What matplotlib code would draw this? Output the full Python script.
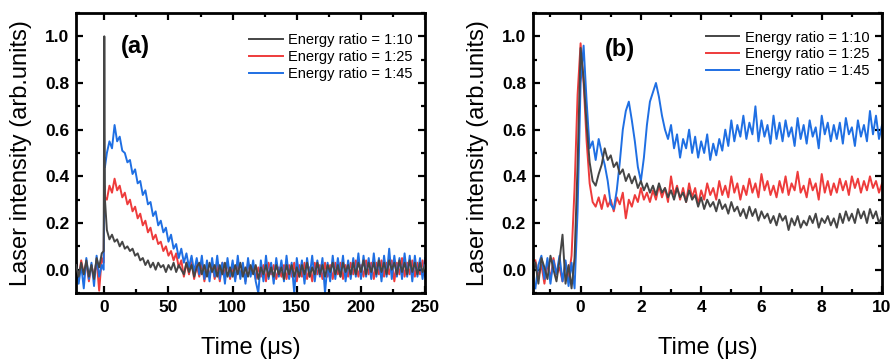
import numpy as np
import matplotlib
matplotlib.use('Agg')
import matplotlib.pyplot as plt
from matplotlib.ticker import MultipleLocator, FormatStrFormatter

plt.rcParams['font.family'] = ['Liberation Sans', 'DejaVu Sans']

############################################################
# DATA
labels = ['Energy ratio = 1:10', 'Energy ratio = 1:25', 'Energy ratio = 1:45']
colors = ['#454545', '#ee3b3b', '#1f6fe3']

# (a) long time window, sampling in us (finer around the spike at t=0)
t_a = np.concatenate([np.arange(-22, -1, 2), [-0.5, 0, 0.5], np.arange(2, 251, 2)])

gray_a = [0.02, -0.03, 0.03, -0.02, 0.04, -0.03, 0.02, -0.04, 0.05, 0.01, 0.07,
          0.08, 1.00, 0.30,
          0.17, 0.13, 0.15, 0.12, 0.13, 0.10, 0.12, 0.09, 0.10, 0.08,
          0.09, 0.06, 0.07, 0.04, 0.05, 0.02, 0.04, 0.01, 0.03, 0.00,
          0.03, 0.01, 0.02, -0.01, 0.02, 0.00, 0.03, -0.01, 0.02, 0.00,
          -0.02, 0.03, -0.01, 0.02, -0.03, 0.01, 0.03, -0.02, 0.02, -0.03,
          0.03, -0.01, 0.02, -0.03, 0.02, -0.02, 0.03, -0.03, 0.01, -0.03,
          0.02, -0.02, 0.03, -0.03, 0.01, -0.03, 0.02, -0.02, 0.02, -0.04,
          0.01, -0.02, 0.02, -0.03, 0.01, -0.03, 0.02, -0.02, 0.01, -0.04,
          0.02, -0.02, 0.02, -0.03, 0.01, -0.03, 0.02, -0.02, 0.03, -0.03,
          0.01, -0.02, 0.03, -0.02, 0.02, -0.03, 0.02, -0.01, 0.03, -0.02,
          0.02, -0.03, 0.03, -0.01, 0.02, -0.02, 0.03, -0.02, 0.03, -0.01,
          0.04, -0.02, 0.03, -0.01, 0.03, -0.02, 0.04, -0.01, 0.03, -0.02,
          0.04, 0.00, 0.03, -0.02, 0.04, -0.01, 0.03, -0.02, 0.04, -0.01,
          0.03, -0.02, 0.03, -0.01, 0.02]

red_a = [0.03, -0.04, 0.04, -0.02, 0.03, -0.05, 0.02, -0.03, 0.04, -0.09, 0.05,
         0.03, 0.36, 0.31,
         0.30, 0.36, 0.33, 0.39, 0.34, 0.36, 0.31, 0.33, 0.28, 0.30,
         0.25, 0.27, 0.22, 0.24, 0.19, 0.21, 0.16, 0.18, 0.13, 0.15,
         0.11, 0.12, 0.08, 0.10, 0.06, 0.08, 0.04, 0.07, 0.01, 0.04,
         -0.03, 0.03, -0.02, 0.04, -0.04, 0.02, -0.03, 0.03, -0.05, 0.02,
         -0.03, 0.03, -0.04, 0.02, -0.05, 0.03, -0.02, 0.03, -0.04, 0.01,
         -0.04, 0.03, -0.03, 0.02, -0.05, 0.03, -0.02, 0.02, -0.04, 0.01,
         -0.03, 0.02, -0.05, 0.03, -0.02, 0.02, -0.04, 0.01, -0.03, 0.02,
         -0.04, 0.02, -0.03, 0.03, -0.05, 0.02, -0.03, 0.03, -0.04, 0.01,
         -0.05, 0.03, -0.02, 0.02, -0.04, 0.03, -0.03, 0.02, -0.04, 0.03,
         -0.02, 0.03, -0.04, 0.02, -0.03, 0.03, -0.02, 0.04, -0.03, 0.02,
         -0.03, 0.04, -0.02, 0.03, -0.04, 0.03, -0.02, 0.04, -0.03, 0.03,
         -0.02, 0.04, -0.05, 0.03, -0.02, 0.05, -0.03, 0.03, -0.02, 0.04,
         -0.03, 0.03, -0.02, 0.04, -0.03]

blue_a = [0.04, -0.06, 0.02, -0.08, 0.05, -0.04, 0.03, -0.07, 0.06, -0.03, 0.02,
          0.00, 0.48, 0.44,
          0.50, 0.55, 0.52, 0.62, 0.55, 0.57, 0.51, 0.50, 0.46, 0.47,
          0.41, 0.43, 0.37, 0.38, 0.32, 0.34, 0.28, 0.29, 0.23, 0.25,
          0.19, 0.21, 0.16, 0.18, 0.12, 0.15, 0.09, 0.11, 0.05, 0.09,
          0.03, 0.07, 0.01, 0.06, -0.01, 0.05, -0.02, 0.06, -0.04, 0.04,
          -0.05, 0.05, -0.03, 0.06, -0.04, 0.03, -0.06, 0.05, -0.03, 0.04,
          -0.05, 0.06, -0.04, 0.03, -0.06, 0.05, -0.03, 0.04, -0.05, -0.10,
          0.04, -0.05, 0.06, -0.04, 0.03, -0.06, 0.05, -0.03, 0.04, -0.05,
          0.06, -0.04, 0.03, -0.10, 0.05, -0.03, 0.04, -0.06, 0.05, -0.03,
          0.06, -0.05, 0.04, -0.03, 0.05, -0.10, 0.03, -0.05, 0.06, -0.04,
          0.05, -0.03, 0.06, -0.05, 0.04, -0.04, 0.05, -0.03, 0.07, -0.04,
          0.06, -0.03, 0.05, -0.04, 0.07, -0.03, 0.05, -0.05, 0.06, -0.03,
          0.09, -0.04, 0.06, -0.03, 0.05, -0.04, 0.07, -0.03, 0.06, -0.05,
          0.06, -0.03, 0.05, -0.04, 0.05]

# (b) zoom on the first 10 us, 0.1 us sampling
t_b = np.round(np.arange(-15, 101) * 0.1, 1)

gray_b = [0.03, -0.06, 0.05, 0.01, -0.04, 0.06, 0.00, -0.05, 0.04, 0.15,
          -0.06, 0.02, -0.08, 0.05, 0.45, 0.95, 0.82, 0.62, 0.46, 0.38,
          0.36, 0.41, 0.45, 0.52, 0.47, 0.49, 0.44, 0.46, 0.41, 0.43,
          0.38, 0.41, 0.37, 0.40, 0.35, 0.38, 0.34, 0.37, 0.33, 0.36,
          0.32, 0.37, 0.33, 0.35, 0.31, 0.34, 0.30, 0.35, 0.31, 0.33,
          0.29, 0.34, 0.30, 0.32, 0.27, 0.31, 0.26, 0.30, 0.27, 0.29,
          0.25, 0.30, 0.26, 0.28, 0.24, 0.29, 0.25, 0.27, 0.23, 0.26,
          0.22, 0.27, 0.23, 0.26, 0.21, 0.25, 0.22, 0.24, 0.20, 0.23,
          0.19, 0.24, 0.21, 0.23, 0.17, 0.22, 0.19, 0.23, 0.18, 0.21,
          0.19, 0.23, 0.20, 0.24, 0.18, 0.22, 0.20, 0.23, 0.19, 0.22,
          0.18, 0.24, 0.20, 0.25, 0.21, 0.24, 0.20, 0.26, 0.22, 0.25,
          0.20, 0.26, 0.22, 0.25, 0.20, 0.23]

red_b = [0.04, -0.03, 0.02, -0.06, 0.03, -0.04, 0.05, -0.02, 0.01, -0.05,
         0.03, -0.04, 0.06, 0.35, 0.75, 0.97, 0.80, 0.55, 0.37, 0.29,
         0.27, 0.31, 0.26, 0.32, 0.27, 0.30, 0.25, 0.31, 0.28, 0.33,
         0.22, 0.30, 0.27, 0.32, 0.29, 0.35, 0.30, 0.33, 0.29, 0.34,
         0.30, 0.36, 0.31, 0.35, 0.29, 0.40, 0.32, 0.36, 0.30, 0.35,
         0.29, 0.37, 0.31, 0.35, 0.28, 0.34, 0.30, 0.37, 0.32, 0.35,
         0.30, 0.38, 0.32, 0.36, 0.31, 0.40, 0.33, 0.37, 0.30, 0.36,
         0.32, 0.39, 0.33, 0.37, 0.31, 0.41, 0.34, 0.38, 0.32, 0.36,
         0.31, 0.38, 0.33, 0.40, 0.32, 0.37, 0.34, 0.42, 0.33, 0.36,
         0.31, 0.39, 0.34, 0.37, 0.30, 0.41, 0.33, 0.38, 0.32, 0.37,
         0.33, 0.39, 0.34, 0.38, 0.32, 0.40, 0.35, 0.39, 0.33, 0.38,
         0.34, 0.40, 0.35, 0.38, 0.33, 0.37]

blue_b = [-0.08, 0.02, 0.06, -0.04, 0.05, -0.06, 0.04, -0.02, 0.06, -0.05,
          0.04, -0.07, 0.03, -0.08, 0.25, 0.80, 0.96, 0.72, 0.52, 0.55,
          0.47, 0.56, 0.50, 0.45, 0.38, 0.28, 0.26, 0.34, 0.46, 0.60,
          0.68, 0.72, 0.64, 0.55, 0.44, 0.38, 0.48, 0.62, 0.72, 0.76,
          0.80, 0.74, 0.66, 0.60, 0.56, 0.62, 0.52, 0.58, 0.48, 0.56,
          0.52, 0.60, 0.50, 0.57, 0.48, 0.55, 0.50, 0.58, 0.47, 0.54,
          0.49, 0.56, 0.51, 0.60, 0.53, 0.64, 0.55, 0.62, 0.57, 0.66,
          0.56, 0.63, 0.58, 0.70, 0.55, 0.64, 0.57, 0.62, 0.54, 0.66,
          0.56, 0.63, 0.55, 0.64, 0.57, 0.61, 0.53, 0.65, 0.56, 0.62,
          0.54, 0.64, 0.57, 0.61, 0.52, 0.66, 0.58, 0.63, 0.55, 0.62,
          0.56, 0.63, 0.54, 0.65, 0.58, 0.61, 0.53, 0.64, 0.57, 0.62,
          0.55, 0.68, 0.58, 0.66, 0.56, 0.62]

############################################################
# PLOTTING
fig = plt.figure(figsize=(8.95, 3.6), dpi=100)
ax_a = fig.add_axes([0.085, 0.186, 0.390, 0.778])
ax_b = fig.add_axes([0.5955, 0.186, 0.390, 0.778])

zorders = [3, 1, 2]
for ax, t, series in [(ax_a, t_a, [gray_a, red_a, blue_a]),
                      (ax_b, t_b, [gray_b, red_b, blue_b])]:
    for y, c, lab, z in zip(series, colors, labels, zorders):
        ax.plot(t, y, c=c, lw=1.4, label=lab, zorder=z)
    ax.set_ylim(-0.1, 1.1)
    ax.yaxis.set_major_locator(MultipleLocator(0.2))
    ax.yaxis.set_minor_locator(MultipleLocator(0.1))
    ax.yaxis.set_major_formatter(FormatStrFormatter('%.1f'))
    ax.tick_params(which='both', direction='in', top=True, right=True, width=1.6)
    ax.tick_params(which='major', length=5, labelsize=12.5, pad=5)
    ax.tick_params(which='minor', length=3)
    for lbl in ax.get_xticklabels() + ax.get_yticklabels():
        lbl.set_fontweight('bold')
    for sp in ax.spines.values():
        sp.set_linewidth(2)
    ax.set_xlabel('Time (\u03bcs)', fontsize=17, labelpad=16)
    ax.set_ylabel('Laser intensity (arb.units)', fontsize=17, labelpad=9)

ax_a.set_xlim(-22, 250)
ax_a.xaxis.set_major_locator(MultipleLocator(50))
ax_a.xaxis.set_minor_locator(MultipleLocator(25))
ax_b.set_xlim(-1.58, 10)
ax_b.xaxis.set_major_locator(MultipleLocator(2))
ax_b.xaxis.set_minor_locator(MultipleLocator(1))

ax_a.text(0.17, 0.88, '(a)', transform=ax_a.transAxes, fontsize=17,
          fontweight='bold', ha='center', va='center')
ax_b.text(0.25, 0.868, '(b)', transform=ax_b.transAxes, fontsize=17,
          fontweight='bold', ha='center', va='center')

ax_a.legend(loc='upper right', bbox_to_anchor=(0.98, 0.95), frameon=False,
            fontsize=10.5, handlelength=2.3, handletextpad=0.35,
            labelspacing=0.2, borderaxespad=0)
ax_b.legend(loc='upper right', bbox_to_anchor=(0.98, 0.958), frameon=False,
            fontsize=10.5, handlelength=2.3, handletextpad=0.35,
            labelspacing=0.2, borderaxespad=0)

plt.savefig('out.png', dpi=100)
